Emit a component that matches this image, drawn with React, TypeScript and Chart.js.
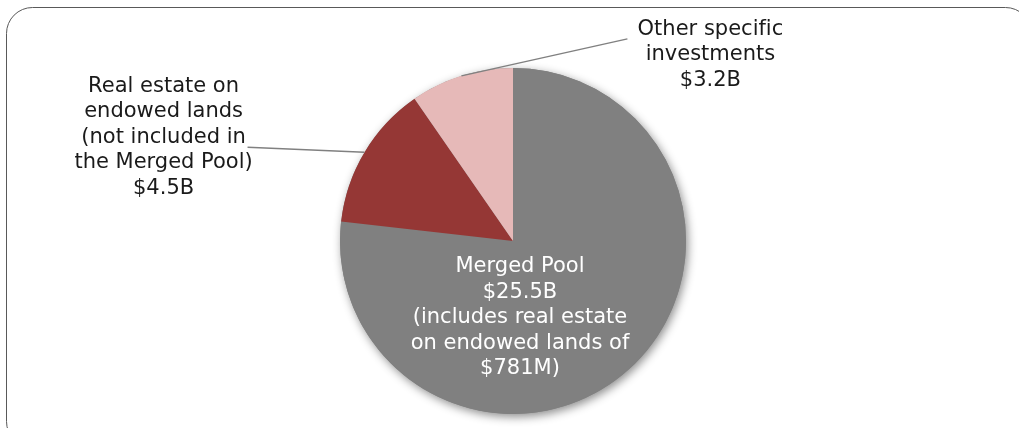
import React, { useEffect, useRef } from "react";
import { Chart, registerables } from "chart.js";

Chart.register(...registerables);

const categories = [
  "Merged Pool",
  "Real estate on endowed lands (not included in the Merged Pool)",
  "Other specific investments",
];
const values = [25.5, 4.5, 3.2];
const sliceColors = ["#808080", "#953735", "#e6b9b8"];
const mergedLabelLines = [
  "Merged Pool",
  "$25.5B",
  "(includes real estate",
  "on endowed lands of",
  "$781M)",
];
const realEstateLabelLines = [
  "Real estate on",
  "endowed lands",
  "(not included in",
  "the Merged Pool)",
  "$4.5B",
];
// zero-width non-joiner keeps "fi" from becoming a ligature
const otherLabelLines = ["Other specif\u200Cic", "investments", "$3.2B"];

const FONT = '21px "DejaVu Sans", Verdana, sans-serif';
const LINE_H = 25.6;

const framePlugin = {
  id: "frame",
  beforeDraw(chart: any) {
    const ctx = chart.ctx as CanvasRenderingContext2D;
    ctx.save();
    ctx.fillStyle = "#ffffff";
    ctx.fillRect(0, 0, chart.width, chart.height);
    const x = 6.5, y = 7.5, w = 1025, h = 440, r = 26;
    ctx.beginPath();
    ctx.moveTo(x + r, y);
    ctx.lineTo(x + w - r, y);
    ctx.arcTo(x + w, y, x + w, y + r, r);
    ctx.lineTo(x + w, y + h - r);
    ctx.arcTo(x + w, y + h, x + w - r, y + h, r);
    ctx.lineTo(x + r, y + h);
    ctx.arcTo(x, y + h, x, y + h - r, r);
    ctx.lineTo(x, y + r);
    ctx.arcTo(x, y, x + r, y, r);
    ctx.closePath();
    ctx.strokeStyle = "#595959";
    ctx.lineWidth = 1;
    ctx.stroke();
    ctx.restore();
  },
  beforeDatasetsDraw(chart: any) {
    const arc = chart.getDatasetMeta(0).data[0];
    if (!arc) return;
    const ctx = chart.ctx as CanvasRenderingContext2D;
    ctx.save();
    ctx.shadowColor = "rgba(0,0,0,0.45)";
    ctx.shadowBlur = 10;
    ctx.shadowOffsetX = 2;
    ctx.shadowOffsetY = 3;
    ctx.fillStyle = sliceColors[0];
    ctx.beginPath();
    ctx.arc(arc.x, arc.y, arc.outerRadius, 0, Math.PI * 2);
    ctx.fill();
    ctx.restore();
  },
  afterDatasetsDraw(chart: any) {
    const meta = chart.getDatasetMeta(0);
    const ctx = chart.ctx as CanvasRenderingContext2D;
    const a0 = meta.data[0];
    const cx = a0.x, cy = a0.y;
    ctx.save();
    ctx.font = FONT;
    ctx.textAlign = "center";
    ctx.textBaseline = "alphabetic";

    // Merged pool label inside slice
    ctx.fillStyle = "#ffffff";
    mergedLabelLines.forEach((t, i) => {
      ctx.fillText(t, cx + 7, cy + 31 + i * LINE_H);
    });

    const edgePoint = (el: any) => {
      const mid = (el.startAngle + el.endAngle) / 2;
      return { x: el.x + Math.cos(mid) * el.outerRadius, y: el.y + Math.sin(mid) * el.outerRadius };
    };

    ctx.strokeStyle = "#808080";
    ctx.lineWidth = 1.5;
    ctx.fillStyle = "#1a1a1a";

    // Real estate label
    const p1 = edgePoint(meta.data[1]);
    const e1 = { x: p1.x - 117, y: p1.y - 5 };
    ctx.beginPath();
    ctx.moveTo(p1.x, p1.y);
    ctx.lineTo(e1.x, e1.y);
    ctx.stroke();
    realEstateLabelLines.forEach((t, i) => {
      ctx.fillText(t, e1.x - 84, e1.y - 55.5 + i * LINE_H);
    });

    // Other specific label
    const p2 = edgePoint(meta.data[2]);
    const e2 = { x: p2.x + 166, y: p2.y - 37 };
    ctx.beginPath();
    ctx.moveTo(p2.x, p2.y);
    ctx.lineTo(e2.x, e2.y);
    ctx.stroke();
    otherLabelLines.forEach((t, i) => {
      ctx.fillText(t, e2.x + 83, e2.y - 4 + i * LINE_H);
    });
    ctx.restore();
  },
};

export default function App() {
  const ref = useRef<HTMLCanvasElement | null>(null);
  useEffect(() => {
    if (!ref.current) return;
    const chart = new Chart(ref.current, {
      type: "pie",
      data: {
        labels: categories,
        datasets: [
          {
            data: values,
            backgroundColor: sliceColors,
            borderWidth: 0,
            hoverOffset: 0,
            clip: false as any,
          },
        ],
      },
      options: {
        animation: false,
        responsive: false,
        events: [],
        layout: { padding: { left: 340, right: 333, top: 68, bottom: 14 } },
        plugins: {
          legend: { display: false },
          tooltip: { enabled: false },
        },
      },
      plugins: [framePlugin],
    });
    return () => chart.destroy();
  }, []);
  return (
    <div style={{ position: "fixed", left: 0, top: 0, width: 1019, height: 428, background: "#fff" }}>
      <canvas ref={ref} width={1019} height={428} style={{ display: "block", width: 1019, height: 428 }} />
    </div>
  );
}
